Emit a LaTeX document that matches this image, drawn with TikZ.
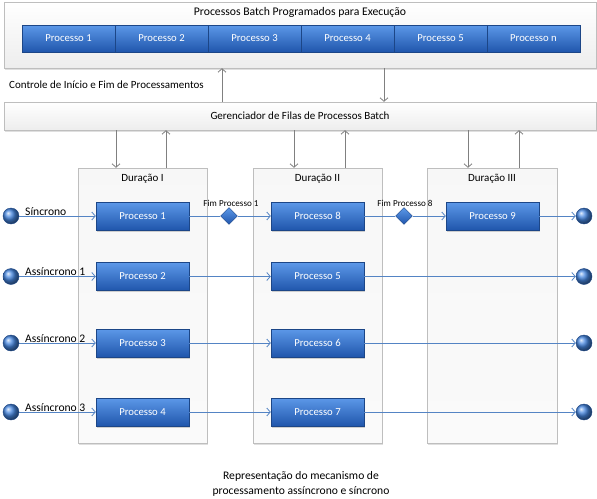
\documentclass[tikz,border=0pt]{standalone}
\usepackage{fontspec}
\setmainfont{Carlito}
\usetikzlibrary{arrows.meta,shapes.geometric,shadows,calc}
\definecolor{bluetop}{RGB}{92,152,232}
\definecolor{bluemid}{RGB}{52,116,206}
\definecolor{bluebot}{RGB}{32,86,172}
\definecolor{blueedge}{RGB}{28,70,135}
\definecolor{dotball}{RGB}{70,135,225}
\definecolor{linkblue}{RGB}{84,132,196}
\definecolor{paneledge}{RGB}{190,190,190}
\definecolor{arrgray}{RGB}{128,128,128}
\tikzset{
  panel/.style={draw=paneledge, top color=white, bottom color=gray!14, inner sep=0pt,
    drop shadow={shadow xshift=1pt, shadow yshift=-1.5pt, opacity=0.25}},
  column/.style={draw=paneledge, top color=gray!6, middle color=gray!16, bottom color=gray!4, inner sep=0pt,
    drop shadow={shadow xshift=1pt, shadow yshift=-1.5pt, opacity=0.25}},
  proc/.style={draw=blueedge, top color=bluetop, middle color=bluemid, bottom color=bluebot,
    text=white, font=\fontsize{10.7}{12}\selectfont, minimum width=93pt, minimum height=28pt, inner sep=0pt,
    drop shadow={shadow xshift=1pt, shadow yshift=-1.5pt, opacity=0.35}},
  seg/.style={draw=blueedge, top color=bluetop, middle color=bluemid, bottom color=bluebot,
    text=white, font=\fontsize{10.7}{12}\selectfont, minimum width=93pt, minimum height=27pt, inner sep=0pt},
  dot/.style={circle, draw=blueedge, ball color=dotball, minimum size=16pt, inner sep=0pt},
  gate/.style={diamond, aspect=1, draw=blueedge, top color=bluetop, bottom color=bluebot, minimum size=17pt, inner sep=0pt},
  link/.style={draw=linkblue, line width=0.8pt},
  linkarr/.style={link, -{Straight Barb[length=3.5pt,width=8pt]}},
  grayarr/.style={draw=arrgray, line width=0.8pt, -{Straight Barb[length=3.5pt,width=8pt]}},
  lbl/.style={font=\fontsize{11}{13}\selectfont, inner sep=0pt},
  rowl/.style={font=\fontsize{11.6}{13}\selectfont, inner sep=0pt},
  small/.style={font=\fontsize{9.1}{10}\selectfont, inner sep=0pt},
}
\begin{document}
\begin{tikzpicture}[x=1pt,y=-1pt]
\useasboundingbox (0,0) rectangle (597,498);
\fill[white] (0,0) rectangle (597,498);

% top panel
\node[panel, minimum width=592pt, minimum height=66pt] (top) at (300,35) {};
\node[font=\fontsize{11.7}{13}\selectfont, inner sep=0pt] (toptitle) at (300,12) {Processos Batch Programados para Execução};
\node[seg] (s1) at (68.5,38.5) {Processo 1};
\node[seg] (s2) at (161.5,38.5) {Processo 2};
\node[seg] (s3) at (254.5,38.5) {Processo 3};
\node[seg] (s4) at (347.5,38.5) {Processo 4};
\node[seg] (s5) at (440.5,38.5) {Processo 5};
\node[seg] (s6) at (533.5,38.5) {Processo n};

\node[lbl, anchor=west] (ctrl) at (9,85) {Controle de Início e Fim de Processamentos};

% manager
\node[panel, minimum width=592pt, minimum height=28pt] (gm) at (300,116) {};
\node[lbl] (gmtitle) at (300,116) {Gerenciador de Filas de Processos Batch};

% columns
\node[column, minimum width=129pt, minimum height=275pt] (d1) at (142.5,305.5) {};
\node[column, minimum width=129pt, minimum height=275pt] (d2) at (317.5,305.5) {};
\node[column, minimum width=130pt, minimum height=275pt] (d3) at (492,305.5) {};
\node[lbl] (t1) at (142.5,179) {Duração I};
\node[lbl] (t2) at (317.5,179) {Duração II};
\node[lbl] (t3) at (492,179) {Duração III};

% x positions for gray arrows
\coordinate (xa) at (222,0);
\coordinate (xb) at (384,0);
\coordinate (x1d) at (116,0);
\coordinate (x1u) at (166,0);
\coordinate (x2d) at (294,0);
\coordinate (x2u) at (345,0);
\coordinate (x3d) at (468,0);
\coordinate (x3u) at (519,0);

\draw[grayarr] (gm.north -| xa) -- (top.south -| xa);
\draw[grayarr] (top.south -| xb) -- (gm.north -| xb);
\draw[grayarr] (gm.south -| x1d) -- (d1.north -| x1d);
\draw[grayarr] (d1.north -| x1u) -- (gm.south -| x1u);
\draw[grayarr] (gm.south -| x2d) -- (d2.north -| x2d);
\draw[grayarr] (d2.north -| x2u) -- (gm.south -| x2u);
\draw[grayarr] (gm.south -| x3d) -- (d3.north -| x3d);
\draw[grayarr] (d3.north -| x3u) -- (gm.south -| x3u);

% process boxes
\node[proc] (p1) at (142.5,216) {Processo 1};
\node[proc] (p2) at (142.5,276.5) {Processo 2};
\node[proc] (p3) at (142.5,343) {Processo 3};
\node[proc] (p4) at (142.5,412) {Processo 4};
\node[proc] (p8) at (317.5,216) {Processo 8};
\node[proc] (p5) at (317.5,276.5) {Processo 5};
\node[proc] (p6) at (317.5,343) {Processo 6};
\node[proc] (p7) at (317.5,412) {Processo 7};
\node[proc] (p9) at (492.5,216) {Processo 9};

% start / end dots
\node[dot] (a1) at (11,216) {};
\node[dot] (a2) at (11,276.5) {};
\node[dot] (a3) at (11,343) {};
\node[dot] (a4) at (11,412) {};
\node[dot] (e1) at (584,216) {};
\node[dot] (e2) at (584,276.5) {};
\node[dot] (e3) at (584,343) {};
\node[dot] (e4) at (584,412) {};

% gates
\node[gate] (g1) at (229,216) {};
\node[gate] (g2) at (404,216) {};
\node[small] (gl1) at (231,203) {Fim Processo 1};
\node[small] (gl2) at (405,203) {Fim Processo 8};

% connectors
\draw[linkarr] (a1) -- (p1);
\draw[linkarr] (a2) -- (p2);
\draw[linkarr] (a3) -- (p3);
\draw[linkarr] (a4) -- (p4);
\draw[link] (p1) -- (g1);
\draw[linkarr] (g1) -- (p8);
\draw[link] (p8) -- (g2);
\draw[linkarr] (g2) -- (p9);
\draw[linkarr] (p9) -- (e1);
\draw[linkarr] (p2) -- (p5);
\draw[linkarr] (p3) -- (p6);
\draw[linkarr] (p4) -- (p7);
\draw[linkarr] (p5) -- (e2);
\draw[linkarr] (p6) -- (e3);
\draw[linkarr] (p7) -- (e4);

% row labels
\node[rowl, anchor=base west] (r1) at (25,215) {Síncrono};
\node[rowl, anchor=base west] (r2) at (25,275) {Assíncrono 1};
\node[rowl, anchor=base west] (r3) at (25,342) {Assíncrono 2};
\node[rowl, anchor=base west] (r4) at (25,411) {Assíncrono 3};

% caption
\node[align=center, inner sep=0pt, font=\fontsize{11.6}{15}\selectfont] (cap) at (301,484) {Representação do mecanismo de\\processamento assíncrono e síncrono};
\end{tikzpicture}
\end{document}
